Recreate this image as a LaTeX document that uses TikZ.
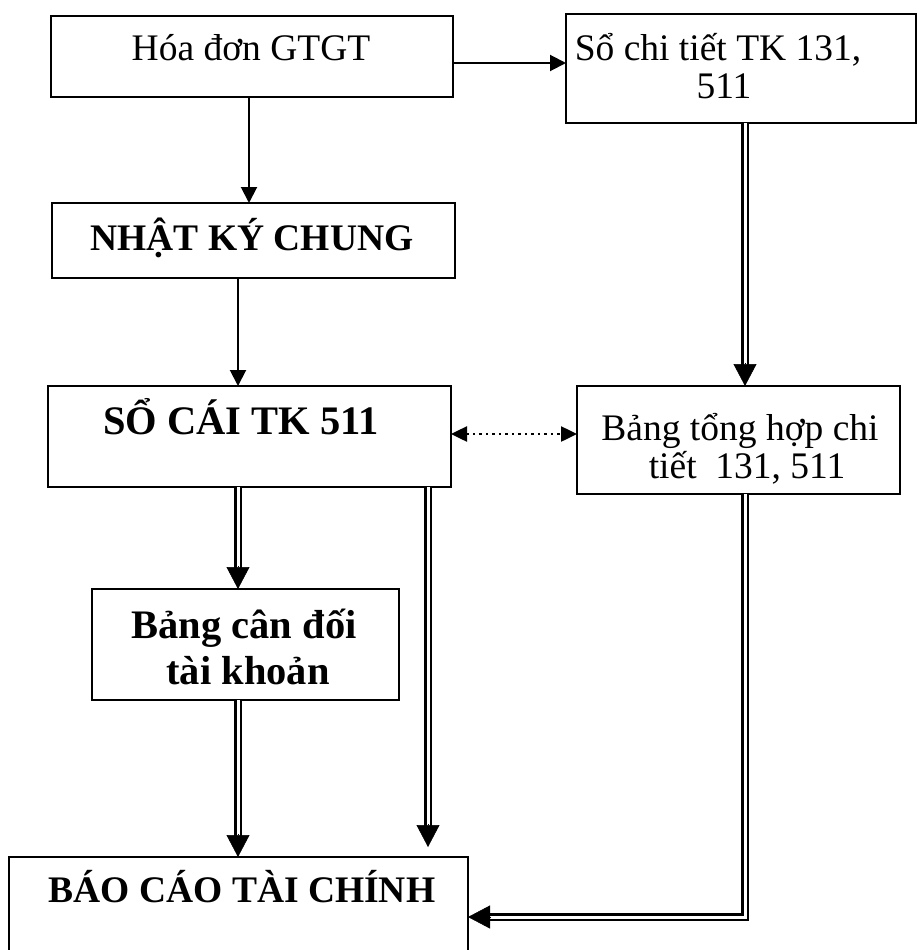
\documentclass[tikz,border=0pt]{standalone}
\usepackage{fontspec}
\setmainfont{Liberation Serif}
\usetikzlibrary{arrows.meta,calc}

\begin{document}
\begin{tikzpicture}[x=1pt,y=-1pt,
  box/.style={draw, line width=2pt, rectangle, inner sep=0pt, outer sep=0pt},
  lbl/.style={inner sep=0pt, anchor=base, font=\fontsize{37.5}{44}\selectfont},
  blbl/.style={lbl, font=\fontsize{37.5}{44}\selectfont\bfseries},
  biglbl/.style={lbl, font=\fontsize{40.5}{48}\selectfont\bfseries},
  arr/.style={line width=2pt, -{Triangle[length=16pt,width=16pt]}},
  dotarr/.style={line width=2.5pt, dash pattern=on 2.5pt off 4pt,
    {Triangle[length=16pt,width=15pt]}-{Triangle[length=16pt,width=15pt]}},
  dbl/.style={double, line width=2.2pt, double distance=3pt},
  dtip/.style={line width=0.5pt, -{Triangle[length=22pt,width=23pt]}}
]
\useasboundingbox (0,0) rectangle (918,950);

% frames
\node[box, minimum width=402pt, minimum height=81pt]  (hd)   at (252,56.5) {};
\node[box, minimum width=350pt, minimum height=109pt] (sct)  at (741,68.5) {};
\node[box, minimum width=403pt, minimum height=75pt]  (nkc)  at (253.5,240.5) {};
\node[box, minimum width=403pt, minimum height=101pt] (sc)   at (249.5,436.5) {};
\node[box, minimum width=323pt, minimum height=108pt] (bth)  at (738.5,440) {};
\node[box, minimum width=307pt, minimum height=111pt] (bcd)  at (245.5,644.5) {};
\node[box, minimum width=459pt, minimum height=120pt] (bctc) at (238.5,917) {};

% texts, placed on their baselines
\node[lbl]    (hd-t)   at (251,60)  {Hóa đơn GTGT};
\node[lbl]    (sct-t1) at (718,60)  {Sổ chi tiết TK 131,};
\node[lbl]    (sct-t2) at (724,99)  {511};
\node[blbl]   (nkc-t)  at (252,250) {NHẬT KÝ CHUNG};
\node[biglbl] (sc-t)   at (241,434) {SỔ CÁI TK 511};
\node[lbl]    (bth-t1) at (740,440) {Bảng tổng hợp chi};
\node[lbl]    (bth-t2) at (747,478) {tiết\ \ 131, 511};
\node[biglbl] (bcd-t1) at (244,638) {Bảng cân đối};
\node[biglbl] (bcd-t2) at (248,684) {tài khoản};
\node[blbl]   (bctc-t) at (242,902) {BÁO CÁO TÀI CHÍNH};

% guide coordinates for the connectors
\coordinate (xa) at (249,0);
\coordinate (xb) at (238,0);
\coordinate (xc) at (428,0);
\coordinate (xd) at (745,0);
\coordinate (ya) at (0,63);
\coordinate (yb) at (0,434);

% single arrows
\draw[arr] (hd.east |- ya) -- (sct.west |- ya);
\draw[arr] (hd.south -| xa) -- (nkc.north -| xa);
\draw[arr] (nkc.south -| xb) -- (sc.north -| xb);

% two-way dotted link
\draw[dotarr] (sc.east |- yb) -- (bth.west |- yb);

% double connectors with their tips
\draw[dbl, shorten >=20pt] (sct.south -| xd) -- (bth.north -| xd);
\draw[dtip] ($(bth.north -| xd)+(0,-23)$) -- (bth.north -| xd);

\draw[dbl, shorten >=20pt] (sc.south -| xb) -- (bcd.north -| xb);
\draw[dtip] ($(bcd.north -| xb)+(0,-23)$) -- (bcd.north -| xb);

\draw[dbl, shorten >=20pt] (bcd.south -| xb) -- (bctc.north -| xb);
\draw[dtip] ($(bctc.north -| xb)+(0,-23)$) -- (bctc.north -| xb);

\coordinate (xcend) at ($(bctc.north -| xc)+(0,-10)$);
\draw[dbl, shorten >=20pt] (sc.south -| xc) -- (xcend);
\draw[dtip] ($(xcend)+(0,-23)$) -- (xcend);

\draw[dbl, shorten >=20pt] (bth.south -| xd) |- (bctc.east);
\draw[dtip] ($(bctc.east)+(23,0)$) -- (bctc.east);
\end{tikzpicture}
\end{document}
